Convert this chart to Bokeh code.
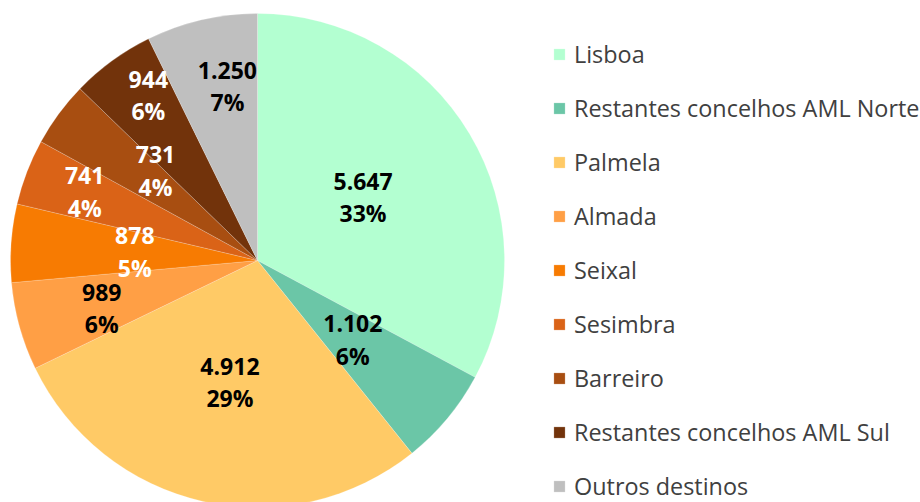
import math
from bokeh.plotting import figure
from bokeh.models import Range1d, ColumnDataSource, Legend, LegendItem
from bokeh.core.properties import value
from bokeh.embed import file_html
from bokeh.resources import INLINE

categories = ["Lisboa", "Restantes concelhos AML Norte", "Palmela", "Almada", "Seixal",
              "Sesimbra", "Barreiro", "Restantes concelhos AML Sul", "Outros destinos"]
counts = [5647, 1102, 4912, 989, 878, 741, 731, 944, 1250]
percent_labels = ["33%", "6%", "29%", "6%", "5%", "4%", "4%", "6%", "7%"]
colors = ["#B3FFD1", "#6BC6A7", "#FFCA66", "#FF9F45", "#F77B02",
          "#DA6317", "#A84E11", "#72330B", "#BFBFBF"]
label_colors = ["black", "black", "black", "black", "white",
                "white", "white", "white", "black"]
# data-label placement (layout): radial distance and angular nudge in degrees
label_radius = [123, 124, 125, 163, 123, 186, 136, 198, 177]
label_nudge = [0, 0, 0, -1.6, 0, 0.7, 5, 2.6, 3.3]

R = 247
total = sum(counts)
starts, ends, lx, ly, top_txt = [], [], [], [], []
cum = 0
for c, lr, nd in zip(counts, label_radius, label_nudge):
    a0 = math.pi / 2 - 2 * math.pi * cum / total
    cum += c
    a1 = math.pi / 2 - 2 * math.pi * cum / total
    starts.append(a0)
    ends.append(a1)
    mid = (a0 + a1) / 2 - math.radians(nd)
    lx.append(lr * math.cos(mid))
    ly.append(lr * math.sin(mid))
    top_txt.append(f"{c:,}".replace(",", "."))

src = ColumnDataSource(dict(cat=categories, start=starts, end=ends, color=colors,
                            lx=lx, ly=ly, ly1=[y + 16 for y in ly], ly2=[y - 16 for y in ly],
                            t1=top_txt, t2=percent_labels, tc=label_colors))

W, H = 920, 502
cx, cy = 257, 260  # pie centre in frame pixels
p = figure(width=W, height=H, output_backend="svg", toolbar_location=None,
           x_range=Range1d(-cx, W - cx), y_range=Range1d(-(H - cy), cy),
           min_border=0, outline_line_color=None, background_fill_color="white",
           border_fill_color="white")
p.axis.visible = False
p.grid.visible = False

r = p.wedge(x=0, y=0, radius=R, start_angle="start", end_angle="end", direction="clock",
            fill_color="color", line_color="white", line_width=0.4, line_alpha=0.5,
            source=src)

for col in ("ly1", "ly2"):
    p.text(x="lx", y=col, text="t1" if col == "ly1" else "t2", source=src,
           text_color="tc", text_font=value("Open Sans"), text_font_style="bold",
           text_font_size="23px", text_align="center", text_baseline="middle")

legend = Legend(items=[LegendItem(label=c, renderers=[r], index=i) for i, c in enumerate(categories)],
                location=(552, 0), orientation="vertical",
                glyph_width=14, glyph_height=14, label_standoff=8,
                label_height=24, spacing=22, padding=0, margin=0,
                label_text_font="Open Sans", label_text_font_size="23.4px",
                label_text_color="#404040", border_line_color=None,
                background_fill_alpha=0)
p.add_layout(legend)

open("out.html", "w").write(file_html(p, INLINE))
